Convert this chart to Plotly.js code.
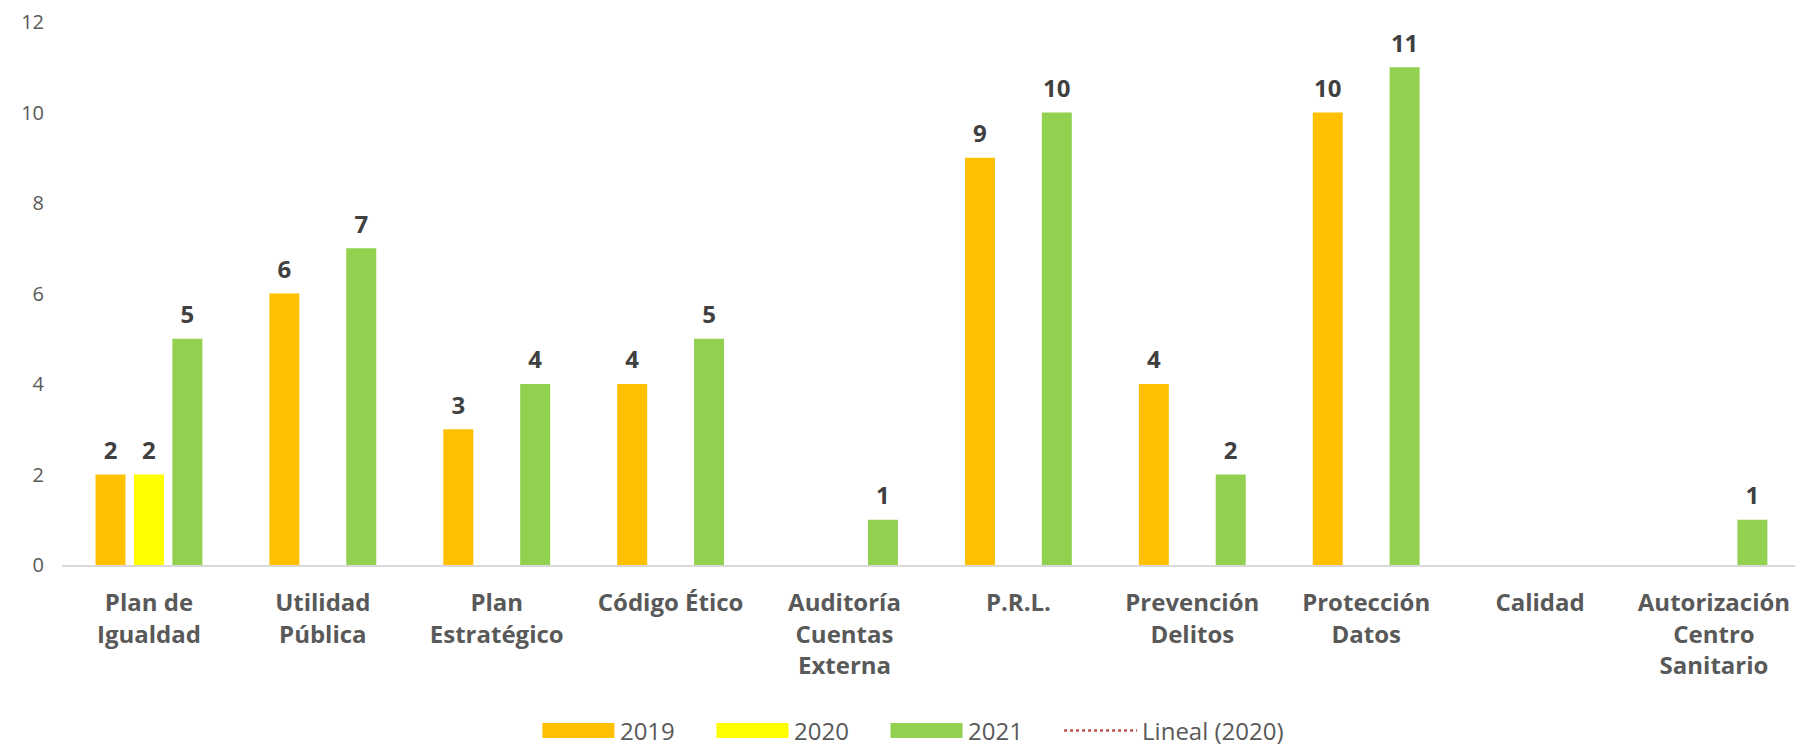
<!DOCTYPE html>
<html>
<head>
<meta charset="utf-8">
<script src="https://cdn.plot.ly/plotly-3.0.1.min.js"></script>
<style>html,body{margin:0;padding:0;background:#fff;}#chart{width:1795px;height:747px;}</style>
</head>
<body>
<div id="chart"></div>
<script>
var categories = ["Plan de<br>Igualdad", "Utilidad<br>Pública", "Plan<br>Estratégico", "Código Ético", "Auditoría<br>Cuentas<br>Externa", "P.R.L.", "Prevención<br>Delitos", "Protección<br>Datos", "Calidad", "Autorización<br>Centro<br>Sanitario"];
var values2019 = [2, 6, 3, 4, null, 9, 4, 10, null, null];
var values2020 = [2, null, null, null, null, null, null, null, null, null];
var values2021 = [5, 7, 4, 5, 1, 10, 2, 11, null, 1];
var yTicks = [0, 2, 4, 6, 8, 10, 12];
var seriesNames = ["2019", "2020", "2021", "Lineal (2020)"];

var FONT = "Open Sans, Arial, sans-serif";
var labelFont = {family: FONT, size: 24, color: "#404040", weight: "bold"};
var PAD = "&nbsp;&nbsp;&nbsp;&nbsp;&nbsp;";

function barTrace(name, vals, color, grp) {
  return {type: "bar", name: name + PAD, x: categories, y: vals, offsetgroup: grp,
    marker: {color: color, line: {width: 0}}, hoverinfo: "x+y"};
}
function textTrace(vals, grp) {
  return {type: "scatter", mode: "markers+text", x: categories, y: vals, offsetgroup: grp,
    text: vals.map(function(v){ return v === null ? "" : String(v); }),
    textposition: "top center", textfont: labelFont,
    marker: {size: 14, opacity: 0}, showlegend: false, hoverinfo: "skip", cliponaxis: false};
}

var data = [
  barTrace(seriesNames[0], values2019, "#FFC000", "a"),
  barTrace(seriesNames[1], values2020, "#FFFF00", "b"),
  barTrace(seriesNames[2], values2021, "#92D050", "c"),
  {type: "scatter", mode: "lines", name: seriesNames[3], x: [categories[0]], y: [null],
   line: {color: "#C0504D", width: 2.5, dash: "dot"}, hoverinfo: "skip"},
  textTrace(values2019, "a"),
  textTrace(values2020, "b"),
  textTrace(values2021, "c")
];

var layout = {
  width: 1795, height: 747,
  margin: {l: 62, r: 0, t: 21.5, b: 182},
  paper_bgcolor: "#fff", plot_bgcolor: "#fff",
  barmode: "group", bargap: 0.337, bargroupgap: 0.22,
  scattermode: "group", scattergap: 0.337,
  font: {family: FONT, color: "#595959"},
  xaxis: {
    type: "category", range: [-0.5, 9.466], fixedrange: true,
    showline: true, linecolor: "#D9D9D9", linewidth: 1.5,
    showgrid: false, zeroline: false,
    ticks: "outside", ticklen: 16, tickcolor: "rgba(0,0,0,0)",
    tickfont: {family: FONT, size: 24, color: "#595959", weight: "bold"}
  },
  yaxis: {
    range: [0, 12], tickvals: yTicks, ticktext: yTicks.map(String),
    showgrid: false, zeroline: false, showline: false,
    ticks: "", ticklabelstandoff: 17,
    tickfont: {family: FONT, size: 20, color: "#595959"}
  },
  showlegend: true,
  legend: {
    orientation: "h", xref: "paper", x: 0.491, xanchor: "center",
    yref: "container", y: 0.0214, yanchor: "middle",
    font: {family: FONT, size: 24, color: "#595959"},
    itemwidth: 73, traceorder: "normal", bgcolor: "rgba(0,0,0,0)"
  }
};

Plotly.newPlot("chart", data, layout, {displayModeBar: false, staticPlot: true}).then(function(gd) {
  // widen the bar legend swatches to the Excel-style long rectangles
  gd.querySelectorAll(".legend .traces .legendpoints path").forEach(function(b) {
    var d = (b.getAttribute("d") || "").replace(/\s/g, "");
    if (d === "M6,6H-6V-6H6Z") {
      b.setAttribute("d", "M36,7.5H-36V-7.5H36Z");
    }
  });
});
</script>
</body>
</html>
